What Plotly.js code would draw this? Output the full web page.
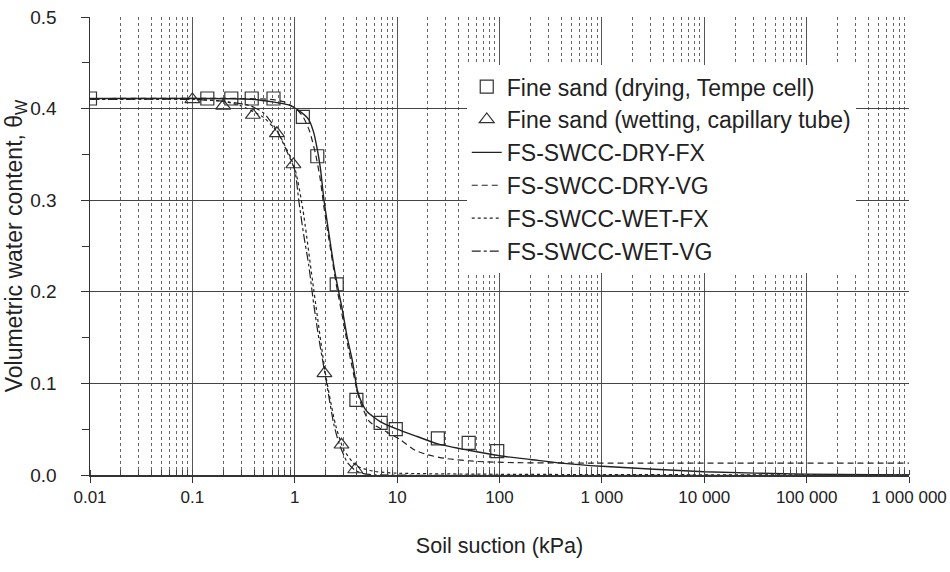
<!DOCTYPE html>
<html>
<head>
<meta charset="utf-8">
<script src="https://cdn.plot.ly/plotly-3.0.1.min.js"></script>
<style>html,body{margin:0;padding:0;background:#fff;}#chart{width:950px;height:572px;}</style>
</head>
<body>
<div id="chart"></div>
<script>
// Measured data
const dryX = [0.01, 0.14, 0.24, 0.38, 0.62, 1.2, 1.66, 2.57, 4.0, 6.9, 9.7, 25, 50, 95];
const dryY = [0.411, 0.411, 0.411, 0.411, 0.411, 0.391, 0.348, 0.208, 0.082, 0.057, 0.050, 0.040, 0.035, 0.026];
const wetX = [0.1, 0.2, 0.39, 0.67, 0.97, 1.95, 2.86, 3.9];
const wetY = [0.410, 0.403, 0.393, 0.373, 0.339, 0.111, 0.033, 0.006];

// Fitted curves
const dryFxX = [0.01, 0.1, 0.4, 0.87, 1.09, 1.37, 1.53, 1.65, 1.78, 1.93, 2.16, 2.41, 2.6, 2.91, 3.26, 3.65, 4.1, 4.6, 5.1, 6.9, 10, 15.7, 25, 50, 100, 200, 400, 1000, 10000, 100000, 1000000];
const dryFxY = [0.411, 0.411, 0.41, 0.404, 0.398, 0.388, 0.374, 0.357, 0.335, 0.3, 0.263, 0.228, 0.208, 0.181, 0.15, 0.125, 0.092, 0.077, 0.069, 0.058, 0.05, 0.042, 0.034, 0.027, 0.021, 0.017, 0.013, 0.0095, 0.0035, 0.001, 0.0];
const dryVgX = [0.01, 0.3, 0.58, 0.81, 1.05, 1.22, 1.4, 1.6, 1.78, 1.93, 2.16, 2.41, 2.6, 2.91, 3.26, 3.65, 4.1, 4.6, 5.4, 7.9, 10.6, 15, 20, 30, 60, 140, 1000, 1000000];
const dryVgY = [0.411, 0.411, 0.41, 0.407, 0.399, 0.39, 0.375, 0.35, 0.322, 0.292, 0.257, 0.224, 0.202, 0.174, 0.144, 0.117, 0.09, 0.073, 0.058, 0.047, 0.039, 0.027, 0.022, 0.018, 0.0148, 0.0135, 0.013, 0.013];
const wetFxX = [0.01, 0.1, 0.2, 0.3, 0.5, 0.7, 1.0, 1.2, 1.5, 2.0, 2.5, 3.0, 4.0, 6.0, 10, 100, 1000000];
const wetFxY = [0.41, 0.41, 0.408, 0.403, 0.39, 0.372, 0.335, 0.29, 0.21, 0.11, 0.055, 0.028, 0.01, 0.004, 0.002, 0.0008, 0.0];
const wetVgX = [0.01, 0.1, 0.2, 0.37, 0.5, 0.67, 0.84, 1.0, 1.1, 1.22, 1.37, 1.53, 1.72, 2.0, 2.4, 2.7, 3.25, 3.9, 4.7, 6.0, 1000000];
const wetVgY = [0.41, 0.41, 0.408, 0.403, 0.395, 0.376, 0.353, 0.333, 0.298, 0.263, 0.229, 0.187, 0.149, 0.107, 0.056, 0.035, 0.014, 0.005, 0.0015, 0.0003, 0.0];

const xTickVals = [0.01, 0.1, 1, 10, 100, 1000, 10000, 100000, 1000000];
const xTickText = ['0.01', '0.1', '1', '10', '100', '1 000', '10 000', '100 000', '1 000 000'];
const yTickVals = [0.0, 0.1, 0.2, 0.3, 0.4, 0.5];
const yTickText = ['0.0', '0.1', '0.2', '0.3', '0.4', '0.5'];

const ink = '#222';
const traces = [
  {x: dryX, y: dryY, mode: 'markers', name: 'Fine sand (drying, Tempe cell)',
   marker: {symbol: 'square-open', size: 13, color: '#333', line: {width: 1.2}}},
  {x: wetX, y: wetY, mode: 'markers', name: 'Fine sand (wetting, capillary tube)',
   marker: {symbol: 'triangle-up-open', size: 13, color: '#333', line: {width: 1.2}}},
  {x: dryFxX, y: dryFxY, mode: 'lines', name: 'FS-SWCC-DRY-FX', line: {color: ink, width: 1.4, shape: 'spline', smoothing: 0.6}},
  {x: dryVgX, y: dryVgY, mode: 'lines', name: 'FS-SWCC-DRY-VG', line: {color: ink, width: 1.2, dash: '6px,4px', shape: 'spline', smoothing: 0.6}},
  {x: wetFxX, y: wetFxY, mode: 'lines', name: 'FS-SWCC-WET-FX', line: {color: ink, width: 1.2, dash: 'dot', shape: 'spline', smoothing: 0.6}},
  {x: wetVgX, y: wetVgY, mode: 'lines', name: 'FS-SWCC-WET-VG', line: {color: ink, width: 1.2, dash: 'dashdot', shape: 'spline', smoothing: 0.6}}
];

const layout = {
  width: 950, height: 572,
  margin: {l: 90, r: 41, t: 17, b: 97},
  paper_bgcolor: '#fff', plot_bgcolor: '#fff',
  font: {family: 'Liberation Sans, Arial, sans-serif', size: 18, color: ink},
  showlegend: true,
  legend: {x: 0.46, y: 0.895, xanchor: 'left', yanchor: 'top', bgcolor: '#fff', borderwidth: 0,
           font: {size: 23, color: ink}, traceorder: 'normal'},
  xaxis: {type: 'log', range: [-2, 6], tickvals: xTickVals, ticktext: xTickText,
          showline: true, linecolor: '#333', linewidth: 1.5, ticks: 'outside', ticklen: 6, tickcolor: '#333',
          showgrid: true, gridcolor: '#555', gridwidth: 1.2, zeroline: false,
          tickfont: {size: 17, color: ink},
          minor: {dtick: 'D1', showgrid: true, gridcolor: '#666', griddash: 'dot', gridwidth: 1, ticks: 'inside', ticklen: 5, tickcolor: '#444'},
          title: {text: 'Soil suction (kPa)', font: {size: 21.5, color: ink}, standoff: 32}},
  yaxis: {range: [0, 0.5], tickvals: yTickVals, ticktext: yTickText,
          showline: true, linecolor: '#333', linewidth: 1.5, ticks: 'outside', ticklen: 8, tickcolor: '#333',
          showgrid: true, gridcolor: '#444', gridwidth: 1.2, zeroline: false,
          tickfont: {size: 19, color: ink}, ticklabelstandoff: 20,
          minor: {dtick: 0.05, ticks: 'outside', ticklen: 7, tickcolor: '#333', showgrid: false},
          title: {text: 'Volumetric water content, θ<sub>W</sub>', font: {size: 23, color: ink}, standoff: 0}}
};

Plotly.newPlot('chart', traces, layout, {displayModeBar: false, staticPlot: true});
</script>
</body>
</html>
